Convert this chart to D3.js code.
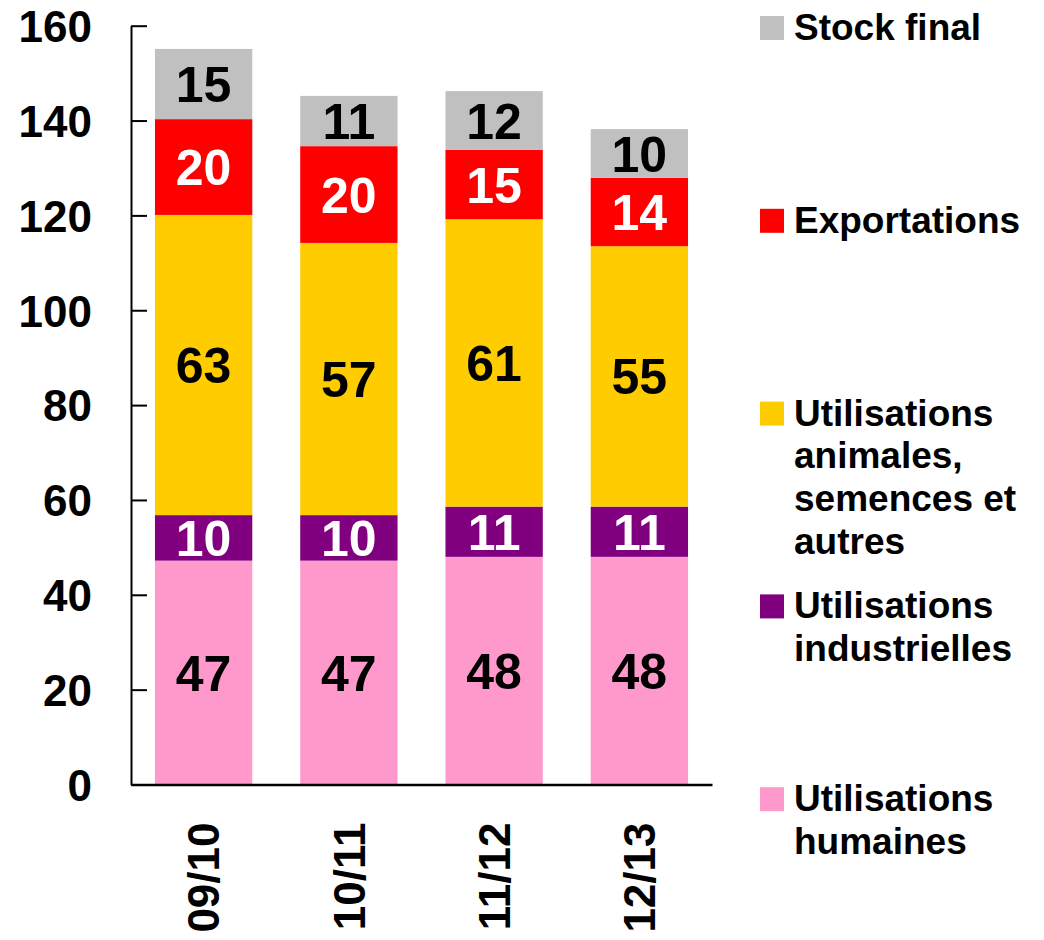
<!DOCTYPE html>
<html>
<head>
<meta charset="utf-8">
<script src="https://cdn.jsdelivr.net/npm/d3@7"></script>
<style>
  body { margin: 0; background: #fff; }
  svg text { font-family: "Liberation Sans", Arial, sans-serif; font-weight: bold; }
</style>
</head>
<body>
<svg id="chart" width="1044" height="940"></svg>
<script>
// campaigns
var campagnes = ["09/10", "10/11", "11/12", "12/13"];

// series, stacked from the bottom up
var humaines     = [47.2, 47.2, 48.0, 48.0];
var industrielles = [9.6, 9.6, 10.6, 10.6];
var animales     = [63.3, 57.4, 60.6, 54.9];
var exportations = [20.2, 20.4, 14.6, 14.4];
var stockFinal   = [14.8, 10.6, 12.4, 10.3];

var yTicks = [0, 20, 40, 60, 80, 100, 120, 140, 160];

var seriesKeys   = ["humaines", "industrielles", "animales", "exportations", "stock"];
var seriesColors = ["#FF99CC", "#800080", "#FFCC00", "#FF0000", "#C0C0C0"];
var labelColors  = ["#000", "#fff", "#000", "#fff", "#000"];

// legend reads top to bottom (reverse of the stack)
var legendItems = [
    { key: "stock", lines: ["Stock final"] },
    { key: "exportations", lines: ["Exportations"] },
    { key: "animales", lines: ["Utilisations", "animales,", "semences et", "autres"] },
    { key: "industrielles", lines: ["Utilisations", "industrielles"] },
    { key: "humaines", lines: ["Utilisations", "humaines"] }
];

var rows = campagnes.map(function(c, i) {
    return {
        campagne: c,
        humaines: humaines[i],
        industrielles: industrielles[i],
        animales: animales[i],
        exportations: exportations[i],
        stock: stockFinal[i]
    };
});

var svg = d3.select("#chart");

var x = d3.scaleBand()
    .domain(campagnes)
    .range([131, 712])
    .paddingInner(0.33)
    .paddingOuter(0.165);

var y = d3.scaleLinear()
    .domain([0, 160])
    .range([784.5, 25.7]);

var color = d3.scaleOrdinal().domain(seriesKeys).range(seriesColors);
var labelColor = d3.scaleOrdinal().domain(seriesKeys).range(labelColors);

var stacked = d3.stack().keys(seriesKeys)(rows);

var layers = svg.append("g")
    .attr("class", "bars")
    .selectAll("g")
    .data(stacked)
    .enter()
    .append("g")
    .attr("fill", function(d) { return color(d.key); });

layers.selectAll("rect")
    .data(function(d) { return d; })
    .enter()
    .append("rect")
    .attr("x", function(d) { return x(d.data.campagne); })
    .attr("y", function(d) { return y(d[1]); })
    .attr("width", x.bandwidth())
    .attr("height", function(d) { return y(d[0]) - y(d[1]); });

// value labels in each segment
svg.append("g")
    .attr("class", "valueLabels")
    .selectAll("g")
    .data(stacked)
    .enter()
    .append("g")
    .attr("fill", function(d) { return labelColor(d.key); })
    .selectAll("text")
    .data(function(d) { return d; })
    .enter()
    .append("text")
    .attr("x", function(d) { return x(d.data.campagne) + x.bandwidth() / 2; })
    .attr("y", function(d) { return (y(d[0]) + y(d[1])) / 2; })
    .attr("dy", "0.36em")
    .attr("text-anchor", "middle")
    .style("font-size", "50px")
    .text(function(d) { return Math.round(d[1] - d[0]); });

// y axis, ticks pointing inward
var yAxis = svg.append("g")
    .attr("class", "yAxis")
    .attr("transform", "translate(131,0)")
    .call(d3.axisLeft(y).tickValues(yTicks).tickSizeInner(-16).tickSizeOuter(0).tickPadding(39));

yAxis.select(".domain").attr("stroke", "#000").attr("stroke-width", 2);
yAxis.selectAll(".tick line").attr("stroke", "#000").attr("stroke-width", 2);
yAxis.selectAll(".tick text")
    .attr("fill", "#000")
    .attr("dy", "0.36em")
    .style("font-size", "44px");

// x axis with rotated labels
var xAxis = svg.append("g")
    .attr("class", "xAxis")
    .attr("transform", "translate(0," + y(0) + ")")
    .call(d3.axisBottom(x).tickSize(0).tickSizeOuter(0));

xAxis.select(".domain").attr("stroke", "#000").attr("stroke-width", 2.5);
xAxis.selectAll(".tick text")
    .attr("transform", "rotate(-90)")
    .attr("x", -38)
    .attr("y", 0)
    .attr("dy", "0.36em")
    .attr("text-anchor", "end")
    .attr("fill", "#000")
    .style("font-size", "44px");

// legend
var legendX = 760, legendTop = 40, legendStep = 192.8, lineH = 42.7, sw = 24;

var legend = svg.append("g")
    .attr("class", "legend")
    .selectAll("g")
    .data(legendItems)
    .enter()
    .append("g")
    .attr("transform", function(d, i) {
        return "translate(" + legendX + "," + (legendTop + i * legendStep) + ")";
    });

legend.append("rect")
    .attr("x", 0)
    .attr("y", -sw)
    .attr("width", sw)
    .attr("height", sw)
    .attr("fill", function(d) { return color(d.key); });

legend.append("text")
    .attr("x", 34)
    .attr("y", 0)
    .attr("fill", "#000")
    .style("font-size", "37px")
    .selectAll("tspan")
    .data(function(d) { return d.lines; })
    .enter()
    .append("tspan")
    .attr("x", 34)
    .attr("y", function(d, i) { return i * lineH; })
    .text(function(d) { return d; });
</script>
</body>
</html>
